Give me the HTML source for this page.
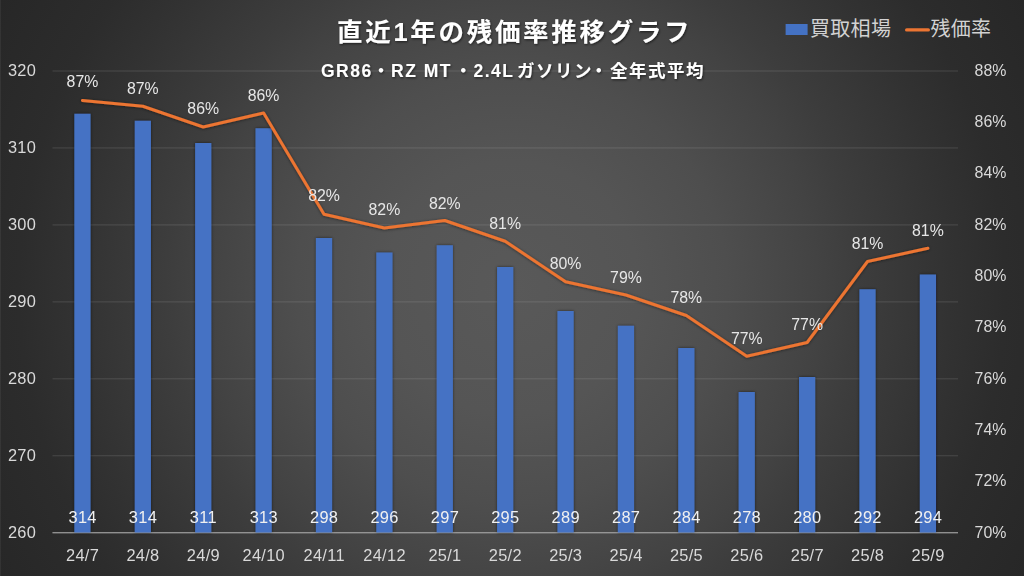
<!DOCTYPE html>
<html lang="ja"><head><meta charset="utf-8"><title>直近1年の残価率推移グラフ</title>
<style>
html,body{margin:0;padding:0;background:#262626}
body{width:1024px;height:576px;overflow:hidden;font-family:"Liberation Sans",sans-serif}
svg{display:block;font-family:"Liberation Sans",sans-serif}
.ax{font-size:15.9px;fill:#d9d9d9}
.dl{font-size:15.85px;fill:#e6e6e6}
.n{font-size:16.4px;letter-spacing:0.3px}
</style></head><body>
<svg width="1024" height="576" viewBox="0 0 1024 576">
<defs>
<radialGradient id="bg" gradientUnits="userSpaceOnUse" cx="512" cy="288" r="587.4">
<stop offset="0" stop-color="#595959"/>
<stop offset="0.216" stop-color="#555555"/>
<stop offset="0.367" stop-color="#4e4e4e"/>
<stop offset="0.52" stop-color="#434343"/>
<stop offset="0.59" stop-color="#3d3d3d"/>
<stop offset="0.746" stop-color="#323232"/>
<stop offset="0.84" stop-color="#2c2c2c"/>
<stop offset="1" stop-color="#272727"/>
</radialGradient>
<filter id="sh" x="-50%" y="-10%" width="200%" height="120%"><feDropShadow dx="0" dy="0" stdDeviation="1.6" flood-color="#000" flood-opacity="0.55"/></filter>
<filter id="shl" x="-5%" y="-5%" width="110%" height="110%"><feDropShadow dx="0" dy="0.5" stdDeviation="1.4" flood-color="#000" flood-opacity="0.5"/></filter>
<filter id="sht" x="-5%" y="-20%" width="110%" height="150%"><feDropShadow dx="0.8" dy="1.2" stdDeviation="1.2" flood-color="#000" flood-opacity="0.55"/></filter>
<filter id="soft" x="-2%" y="-2%" width="104%" height="104%"><feGaussianBlur stdDeviation="0.35"/></filter>
</defs>
<rect width="1024" height="576" fill="url(#bg)"/>
<rect x="0" y="0" width="1" height="576" fill="#fff" opacity="0.06"/>
<g stroke="#d9d9d9" stroke-opacity="0.16" stroke-width="1">
<line x1="52.5" y1="71" x2="958" y2="71"/>
<line x1="52.5" y1="147.958" x2="958" y2="147.958"/>
<line x1="52.5" y1="224.917" x2="958" y2="224.917"/>
<line x1="52.5" y1="301.875" x2="958" y2="301.875"/>
<line x1="52.5" y1="378.833" x2="958" y2="378.833"/>
<line x1="52.5" y1="455.792" x2="958" y2="455.792"/>
</g>
<line x1="52.5" y1="532.75" x2="958" y2="532.75" stroke="#a6a6a6" stroke-width="1.2"/>
<g fill="#4472c4" filter="url(#sh)">
<rect x="74.35" y="113.75" width="16.2" height="419"/>
<rect x="134.74" y="120.75" width="16.2" height="412"/>
<rect x="195.13" y="143" width="16.2" height="389.75"/>
<rect x="255.52" y="128.25" width="16.2" height="404.5"/>
<rect x="315.91" y="238" width="16.2" height="294.75"/>
<rect x="376.3" y="252.5" width="16.2" height="280.25"/>
<rect x="436.69" y="245.25" width="16.2" height="287.5"/>
<rect x="497.08" y="267" width="16.2" height="265.75"/>
<rect x="557.47" y="311" width="16.2" height="221.75"/>
<rect x="617.86" y="325.75" width="16.2" height="207"/>
<rect x="678.25" y="348" width="16.2" height="184.75"/>
<rect x="738.64" y="392" width="16.2" height="140.75"/>
<rect x="799.03" y="377" width="16.2" height="155.75"/>
<rect x="859.42" y="289.25" width="16.2" height="243.5"/>
<rect x="919.81" y="274.5" width="16.2" height="258.25"/>
</g>
<line x1="52.5" y1="532.75" x2="958" y2="532.75" stroke="#a6a6a6" stroke-width="1.2" opacity="0.4"/>
<polyline points="82.45,100.5 142.84,106.25 203.23,127 263.62,113 324.01,214.25 384.4,228 444.79,220.5 505.18,241.25 565.57,281.75 625.96,295 686.35,315.5 746.74,356.25 807.13,342.5 867.52,261.5 927.91,248.25" fill="none" stroke="#ec7431" stroke-width="3" stroke-linecap="round" stroke-linejoin="round" filter="url(#shl)"/>
<g class="ax" filter="url(#soft)">
<text class="n" x="7.9" y="76">320</text>
<text class="n" x="7.9" y="152.958">310</text>
<text class="n" x="7.9" y="229.917">300</text>
<text class="n" x="7.9" y="306.875">290</text>
<text class="n" x="7.9" y="383.833">280</text>
<text class="n" x="7.9" y="460.792">270</text>
<text class="n" x="7.9" y="537.75">260</text>
<text x="974.6" y="75.85">88%</text>
<text x="974.6" y="127.156">86%</text>
<text x="974.6" y="178.461">84%</text>
<text x="974.6" y="229.767">82%</text>
<text x="974.6" y="281.072">80%</text>
<text x="974.6" y="332.378">78%</text>
<text x="974.6" y="383.683">76%</text>
<text x="974.6" y="434.989">74%</text>
<text x="974.6" y="486.294">72%</text>
<text x="974.6" y="537.6">70%</text>
<text class="n" x="82.6" y="561.1" text-anchor="middle">24/7</text>
<text class="n" x="142.99" y="561.1" text-anchor="middle">24/8</text>
<text class="n" x="203.38" y="561.1" text-anchor="middle">24/9</text>
<text class="n" x="263.77" y="561.1" text-anchor="middle">24/10</text>
<text class="n" x="324.16" y="561.1" text-anchor="middle">24/11</text>
<text class="n" x="384.55" y="561.1" text-anchor="middle">24/12</text>
<text class="n" x="444.94" y="561.1" text-anchor="middle">25/1</text>
<text class="n" x="505.33" y="561.1" text-anchor="middle">25/2</text>
<text class="n" x="565.72" y="561.1" text-anchor="middle">25/3</text>
<text class="n" x="626.11" y="561.1" text-anchor="middle">25/4</text>
<text class="n" x="686.5" y="561.1" text-anchor="middle">25/5</text>
<text class="n" x="746.89" y="561.1" text-anchor="middle">25/6</text>
<text class="n" x="807.28" y="561.1" text-anchor="middle">25/7</text>
<text class="n" x="867.67" y="561.1" text-anchor="middle">25/8</text>
<text class="n" x="928.06" y="561.1" text-anchor="middle">25/9</text>
</g>
<g class="dl" text-anchor="middle" filter="url(#soft)">
<text class="n" fill="#f0f0f0" x="82.6" y="523.1">314</text>
<text class="n" fill="#f0f0f0" x="142.99" y="523.1">314</text>
<text class="n" fill="#f0f0f0" x="203.38" y="523.1">311</text>
<text class="n" fill="#f0f0f0" x="263.77" y="523.1">313</text>
<text class="n" fill="#f0f0f0" x="324.16" y="523.1">298</text>
<text class="n" fill="#f0f0f0" x="384.55" y="523.1">296</text>
<text class="n" fill="#f0f0f0" x="444.94" y="523.1">297</text>
<text class="n" fill="#f0f0f0" x="505.33" y="523.1">295</text>
<text class="n" fill="#f0f0f0" x="565.72" y="523.1">289</text>
<text class="n" fill="#f0f0f0" x="626.11" y="523.1">287</text>
<text class="n" fill="#f0f0f0" x="686.5" y="523.1">284</text>
<text class="n" fill="#f0f0f0" x="746.89" y="523.1">278</text>
<text class="n" fill="#f0f0f0" x="807.28" y="523.1">280</text>
<text class="n" fill="#f0f0f0" x="867.67" y="523.1">292</text>
<text class="n" fill="#f0f0f0" x="928.06" y="523.1">294</text>
<text x="82.45" y="87.4">87%</text>
<text x="142.84" y="94.4">87%</text>
<text x="203.23" y="114.35">86%</text>
<text x="263.62" y="101.1">86%</text>
<text x="324.01" y="201.35">82%</text>
<text x="384.4" y="215.1">82%</text>
<text x="444.79" y="208.6">82%</text>
<text x="505.18" y="228.6">81%</text>
<text x="565.57" y="269.35">80%</text>
<text x="625.96" y="282.6">79%</text>
<text x="686.35" y="303.1">78%</text>
<text x="746.74" y="343.6">77%</text>
<text x="807.13" y="329.85">77%</text>
<text x="867.52" y="249.3">81%</text>
<text x="927.91" y="235.6">81%</text>
</g>
<g filter="url(#sht)"><title>直近1年の残価率推移グラフ</title><text x="337" y="41" fill="#fff" font-size="25.5" font-weight="bold" letter-spacing="2.7" font-family="'Liberation Sans','Noto Sans CJK JP',sans-serif">直近1年の残価率推移グラフ</text></g>
<g filter="url(#sht)" fill="#fff"><title>GR86・RZ MT・2.4Lガソリン・全年式平均</title><text y="76.6" fill="#fff" font-size="17.5" font-weight="bold" letter-spacing="1.5" font-family="'Liberation Sans','Noto Sans CJK JP',sans-serif"><tspan x="321">GR86</tspan><tspan x="372.3">・</tspan><tspan x="391">RZ MT</tspan><tspan x="454.5">・</tspan><tspan x="473.5">2.4L</tspan><tspan x="517">ガソリン</tspan><tspan x="589.9">・</tspan><tspan x="610">全年式平均</tspan></text></g>
<rect x="785.6" y="24" width="22" height="11" fill="#4472c4"/>
<text x="810" y="36" fill="#d2d2d2" font-size="20" letter-spacing="0.3" font-family="'Liberation Sans','Noto Sans CJK JP',sans-serif">買取相場</text>
<rect x="905" y="28.2" width="25" height="3.4" rx="1.7" fill="#ec7431" filter="url(#soft)"/>
<text x="930.5" y="36" fill="#d2d2d2" font-size="20" letter-spacing="0.3" font-family="'Liberation Sans','Noto Sans CJK JP',sans-serif">残価率</text>
</svg>
</body></html>
